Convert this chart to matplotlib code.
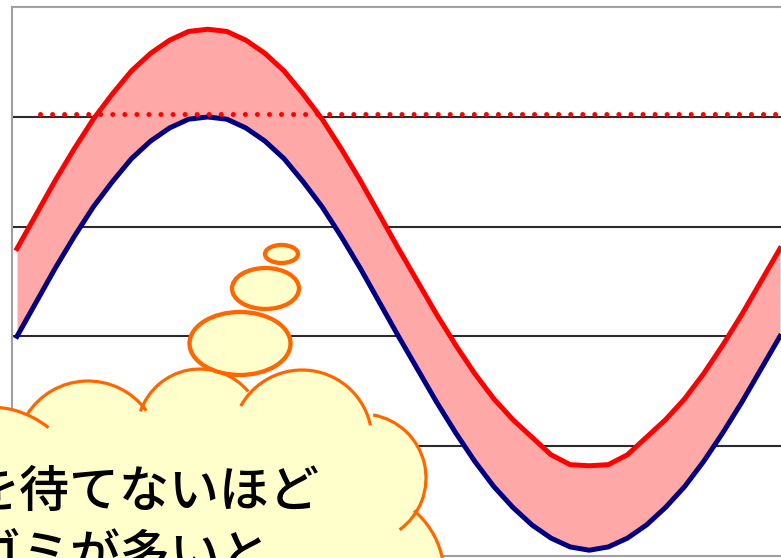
import matplotlib.pyplot as plt
from matplotlib.patches import Arc, Circle, Ellipse, Polygon


# values (one point per step along the x axis)
steps = list(range(41))
blue_vals = [2.00, 2.31, 2.62, 2.91, 3.18, 3.41, 3.62, 3.78, 3.90, 3.98,
             4.00, 3.98, 3.90, 3.78, 3.62, 3.41, 3.18, 2.91, 2.62, 2.31,
             2.00, 1.70, 1.40, 1.12, 0.86, 0.63, 0.44, 0.28, 0.16, 0.08,
             0.05, 0.08, 0.16, 0.28, 0.44, 0.63, 0.86, 1.12, 1.40, 1.70,
             2.00]
red_vals = [2.80, 3.11, 3.42, 3.71, 3.98, 4.21, 4.42, 4.58, 4.70, 4.78,
            4.80, 4.78, 4.70, 4.58, 4.42, 4.21, 3.98, 3.71, 3.42, 3.11,
            2.80, 2.50, 2.20, 1.92, 1.66, 1.43, 1.24, 1.08, 0.92, 0.83,
            0.82, 0.83, 0.92, 1.08, 1.24, 1.43, 1.66, 1.92, 2.20, 2.50,
            2.80]
limit_x = [1.2, 42]
limit_y = [4.03, 4.03]
grid_levels = [1, 2, 3, 4]

text_lines = ['を待てないほど', 'ゴミが多いと']

W, H = 781, 558
YELLOW = '#FFFFCC'
ORANGE = '#FF6600'

fig = plt.figure(figsize=(W / 100, H / 100), dpi=100)
fig.patch.set_facecolor('white')

# main chart, its right side runs past the picture edge
ax = fig.add_axes([12 / W, (H - 555.7) / H, (800 - 12) / W, (555.7 - 7.3) / H])
ax.set_xlim(-0.262, 41.05)
ax.set_ylim(0, 5)
ax.set_xticks([])
ax.set_yticks([])
for side in ['left', 'top', 'bottom', 'right']:
    ax.spines[side].set_color('#A0A0A0')
    ax.spines[side].set_linewidth(1.5)

for g in grid_levels:
    ax.axhline(g, color='#2B2B2B', lw=1.5, zorder=1)

ax.fill_between(steps, blue_vals, red_vals, color='#FFA8A8', lw=0, zorder=2)
ax.plot(steps, red_vals, color='#FF0000', lw=3.6, zorder=4)
ax.plot(steps, blue_vals, color='#000080', lw=3.6, zorder=4)
ax.plot(limit_x, limit_y, color='#FF0000', lw=3.6,
        ls=(0, (0.01, 2.4)), dash_capstyle='round', zorder=5)

# overlay in pixel units for the thought cloud
ov = fig.add_axes([0, 0, 1, 1])
ov.set_xlim(0, W)
ov.set_ylim(0, H)
ov.axis('off')
ov.patch.set_alpha(0)

# cloud bumps: (centre x, centre y from top, radius, arc start, arc end)
bumps = [(-10, 500, 93, 51, 100),
         (88, 453, 72, 36, 148),
         (200, 432, 63, 40, 161),
         (302, 440, 70, 12, 151),
         (362, 478, 64, -54, 80),
         (360, 575, 84, -20, 50)]

ov.add_patch(Polygon([(b[0], H - b[1]) for b in bumps] + [(-20, -20)],
                     closed=True, fc=YELLOW, ec='none', zorder=1))
for cx, cy, r, t1, t2 in bumps:
    ov.add_patch(Circle((cx, H - cy), r, fc=YELLOW, ec='none', zorder=1))
for cx, cy, r, t1, t2 in bumps:
    ov.add_patch(Arc((cx, H - cy), 2 * r, 2 * r, theta1=t1, theta2=t2,
                     color=ORANGE, lw=2.3, zorder=2))

# small bubbles leading up to the cloud
for cx, cy, w, h in [(240, 343.5, 101, 63), (265.5, 288.5, 67, 41), (281.5, 254, 33, 18)]:
    ov.add_patch(Ellipse((cx, H - cy), w, h, fc=YELLOW, ec=ORANGE, lw=3.1, zorder=3))

for i, line in enumerate(text_lines):
    ov.text(-30, H - 493 - 63 * i, line, fontsize=36, color='black',
            family=['Noto Sans CJK JP', 'DejaVu Sans'], fontweight='medium',
            ha='left', va='center', zorder=4)

fig.savefig('out.png', dpi=100)
